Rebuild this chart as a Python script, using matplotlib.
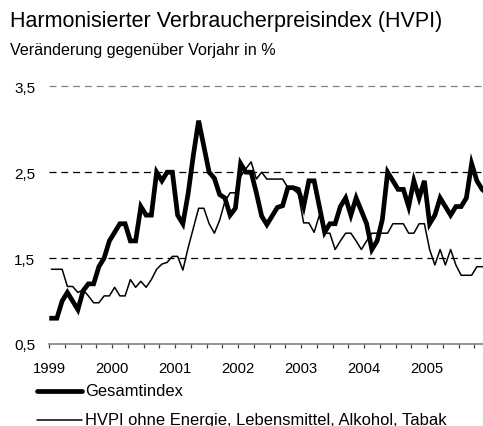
import matplotlib
matplotlib.use("Agg")
import matplotlib.pyplot as plt
from matplotlib.lines import Line2D
import numpy as np

plt.rcParams['font.family'] = ['Liberation Sans', 'DejaVu Sans']
plt.rcParams['lines.scale_dashes'] = False

# ---- data (annual change in %, monthly Jan 1999 - Dec 2005) ----
years = [1999, 2000, 2001, 2002, 2003, 2004, 2005]
gesamtindex = [
    0.80, 0.80, 1.00, 1.10, 1.00, 0.90, 1.12, 1.20, 1.20, 1.40, 1.50, 1.70,   # 1999
    1.80, 1.90, 1.90, 1.70, 1.70, 2.10, 2.00, 2.00, 2.50, 2.40, 2.50, 2.50,   # 2000
    2.00, 1.90, 2.25, 2.70, 3.10, 2.80, 2.50, 2.43, 2.24, 2.20, 2.00, 2.08,   # 2001
    2.60, 2.50, 2.50, 2.26, 1.99, 1.89, 1.99, 2.09, 2.11, 2.32, 2.32, 2.30,   # 2002
    2.10, 2.40, 2.40, 2.10, 1.80, 1.90, 1.90, 2.10, 2.20, 2.00, 2.20, 2.05,   # 2003
    1.90, 1.60, 1.70, 1.95, 2.50, 2.40, 2.30, 2.30, 2.10, 2.40, 2.20, 2.40,   # 2004
    1.90, 2.00, 2.20, 2.10, 2.00, 2.10, 2.10, 2.20, 2.60, 2.40, 2.30, 2.25,   # 2005
]
hvpi_kern = [
    1.37, 1.37, 1.37, 1.17, 1.17, 1.10, 1.13, 1.06, 0.98, 0.98, 1.06, 1.06,   # 1999
    1.16, 1.06, 1.06, 1.25, 1.16, 1.23, 1.16, 1.25, 1.37, 1.43, 1.45, 1.52,   # 2000
    1.52, 1.36, 1.62, 1.85, 2.08, 2.08, 1.90, 1.79, 1.94, 2.16, 2.26, 2.26,   # 2001
    2.45, 2.54, 2.62, 2.42, 2.50, 2.42, 2.42, 2.42, 2.42, 2.32, 2.30, 2.25,   # 2002
    1.91, 1.91, 1.80, 2.00, 1.79, 1.79, 1.60, 1.70, 1.79, 1.79, 1.70, 1.60,   # 2003
    1.70, 1.79, 1.79, 1.79, 1.79, 1.90, 1.90, 1.90, 1.79, 1.79, 1.90, 1.90,   # 2004
    1.60, 1.42, 1.60, 1.42, 1.60, 1.42, 1.30, 1.30, 1.30, 1.40, 1.40, 1.40,   # 2005
]
y_ticks = [0.5, 1.5, 2.5, 3.5]
y_labels = ["0,5", "1,5", "2,5", "3,5"]
title = "Harmonisierter Verbraucherpreisindex (HVPI)"
subtitle = "Veränderung gegenüber Vorjahr in %"
series_labels = ["Gesamtindex", "HVPI ohne Energie, Lebensmittel, Alkohol, Tabak"]

W, H = 483, 427
fig = plt.figure(figsize=(W / 100, H / 100), dpi=100)

# axes (right edge slightly beyond the image, as in the reference crop)
x0, x1 = 49, 490
ytop, ybot = 87.3, 345
ax = fig.add_axes([x0 / W, 1 - ybot / H, (x1 - x0) / W, (ybot - ytop) / H])

n = len(gesamtindex)
x = np.arange(n) + 0.5
ax.plot(x, gesamtindex, color='black', lw=3.4, solid_joinstyle='miter', zorder=4)
ax.plot(x, hvpi_kern, color='black', lw=1.1, zorder=3)

ax.set_xlim(0, n)
ax.set_ylim(y_ticks[0], y_ticks[-1])

# gridlines
for v in y_ticks[1:]:
    col = '#808080' if v == y_ticks[-1] else 'black'
    ax.axhline(v, color=col, lw=0.9, dashes=(5, 3.5), zorder=2, clip_on=False)

for s in ['top', 'right', 'left']:
    ax.spines[s].set_visible(False)
ax.spines['bottom'].set_color('#808080')
ax.spines['bottom'].set_linewidth(1.2)

ax.set_yticks(y_ticks)
ax.set_yticklabels(y_labels, fontsize=11)
ax.tick_params(axis='y', length=0, pad=10)

ax.set_xticks(np.arange(0, n + 1, 3), minor=True)
ax.set_xticks([12 * i for i in range(len(years))])
ax.set_xticklabels([str(y) for y in years], fontsize=10.6)
ax.tick_params(axis='x', which='both', direction='out', length=3,
               width=0.9, color='#404040', pad=9)

# titles
fig.text(10 / W, 1 - 22 / H, title, fontsize=15.5, ha='left', va='center')
fig.text(10 / W, 1 - 51 / H, subtitle, fontsize=11.6, ha='left', va='center')

# legend (manual)
for i, (lab, lw) in enumerate(zip(series_labels, [3.4, 1.1])):
    yy = 1 - (392 + i * 29) / H
    fig.add_artist(Line2D([37 / W, 82 / W], [yy, yy], color='black', lw=lw,
                          solid_capstyle='round', transform=fig.transFigure))
    fig.text(85 / W, yy, lab, fontsize=11.9, ha='left', va='center')

fig.savefig("out.png", dpi=100)
